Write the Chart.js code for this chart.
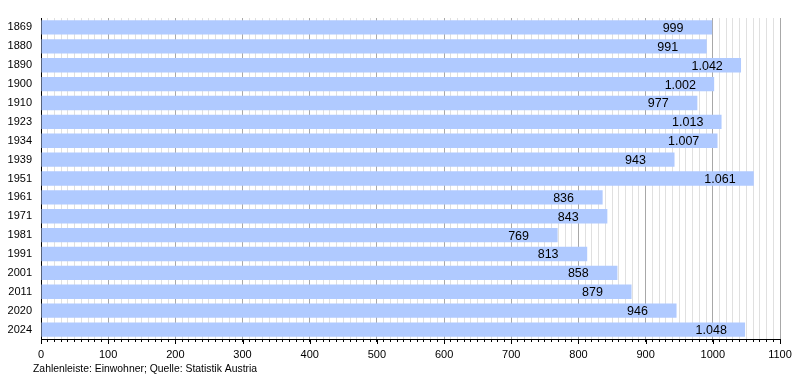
<!DOCTYPE html>
<html>
<head>
<meta charset="utf-8">
<script src="https://cdn.jsdelivr.net/npm/chart.js@4/dist/chart.umd.min.js"></script>
<style>
html,body{margin:0;padding:0;background:#fff;}
canvas{display:block;}
</style>
</head>
<body>
<canvas id="c" width="800" height="380"></canvas>
<script>
const years = ["1869","1880","1890","1900","1910","1923","1934","1939","1951","1961","1971","1981","1991","2001","2011","2020","2024"];
const population = [999, 991, 1042, 1002, 977, 1013, 1007, 943, 1061, 836, 843, 769, 813, 858, 879, 946, 1048];
const axisMin = 0;
const axisMax = 1100;
const majorStep = 100;
const minorStep = 10;
const footerText = "Zahlenleiste: Einwohner; Quelle: Statistik Austria";

const FONT = "'Liberation Sans', Arial, Helvetica, sans-serif";

function fmtDE(n){
  const s = String(Math.round(n));
  return s.replace(/\B(?=(\d{3})+(?!\d))/g, ".");
}

const overlay = {
  id: 'overlay',
  afterDatasetsDraw(chart){
    const ctx = chart.ctx;
    const meta = chart.getDatasetMeta(0);
    ctx.save();
    ctx.font = "12.5px " + FONT;
    ctx.fillStyle = "#000";
    ctx.textAlign = "left";
    ctx.textBaseline = "middle";
    meta.data.forEach((bar, i) => {
      ctx.fillText(fmtDE(population[i]), bar.x - 49.5, bar.y + 1);
    });
    ctx.restore();
  },
  afterDraw(chart){
    const ctx = chart.ctx;
    const xs = chart.scales.x;
    const bottom = chart.chartArea.bottom;
    ctx.save();
    ctx.strokeStyle = "#000";
    ctx.lineWidth = 1;
    for (let v = axisMin; v <= axisMax; v += majorStep){
      const x = Math.round(xs.getPixelForValue(v)) + 0.5;
      ctx.beginPath();
      ctx.moveTo(x, bottom);
      ctx.lineTo(x, bottom + 5);
      ctx.stroke();
    }
    ctx.font = "10.4px " + FONT;
    ctx.fillStyle = "#000";
    ctx.textAlign = "left";
    ctx.textBaseline = "middle";
    ctx.fillText(footerText, 33, 369);
    ctx.restore();
  }
};

new Chart(document.getElementById('c'), {
  type: 'bar',
  data: {
    labels: years,
    datasets: [{
      data: population,
      backgroundColor: 'rgb(176,202,255)',
      borderWidth: 0,
      categoryPercentage: 1,
      barPercentage: 0.76
    }]
  },
  options: {
    indexAxis: 'y',
    responsive: false,
    animation: false,
    layout: { padding: { top: 18, right: 20, left: 0, bottom: 0 } },
    plugins: { legend: { display: false }, tooltip: { enabled: false } },
    scales: {
      x: {
        type: 'linear',
        min: axisMin,
        max: axisMax,
        afterFit(scale){ scale.height = 41; },
        afterBuildTicks(scale){
          const t = [];
          for (let v = axisMin; v <= axisMax; v += minorStep) t.push({ value: v });
          scale.ticks = t;
        },
        ticks: {
          autoSkip: false,
          maxRotation: 0,
          minRotation: 0,
          padding: 6,
          color: '#000',
          font: { family: FONT, size: 11 },
          callback: (v) => (v % majorStep === 0 ? String(v) : '')
        },
        grid: {
          color: (ctx) => (ctx.tick && ctx.tick.value % majorStep === 0 ? '#a8a8a8' : '#e0e0e0'),
          lineWidth: 1,
          tickLength: 3,
          tickColor: '#000'
        },
        border: { display: true, color: '#000', width: 1 }
      },
      y: {
        afterFit(scale){ scale.width = 41; },
        ticks: {
          padding: 9,
          color: '#000',
          font: { family: FONT, size: 11 }
        },
        grid: { display: false, drawTicks: false },
        border: { display: true, color: '#000', width: 1 }
      }
    }
  },
  plugins: [overlay]
});
</script>
</body>
</html>
